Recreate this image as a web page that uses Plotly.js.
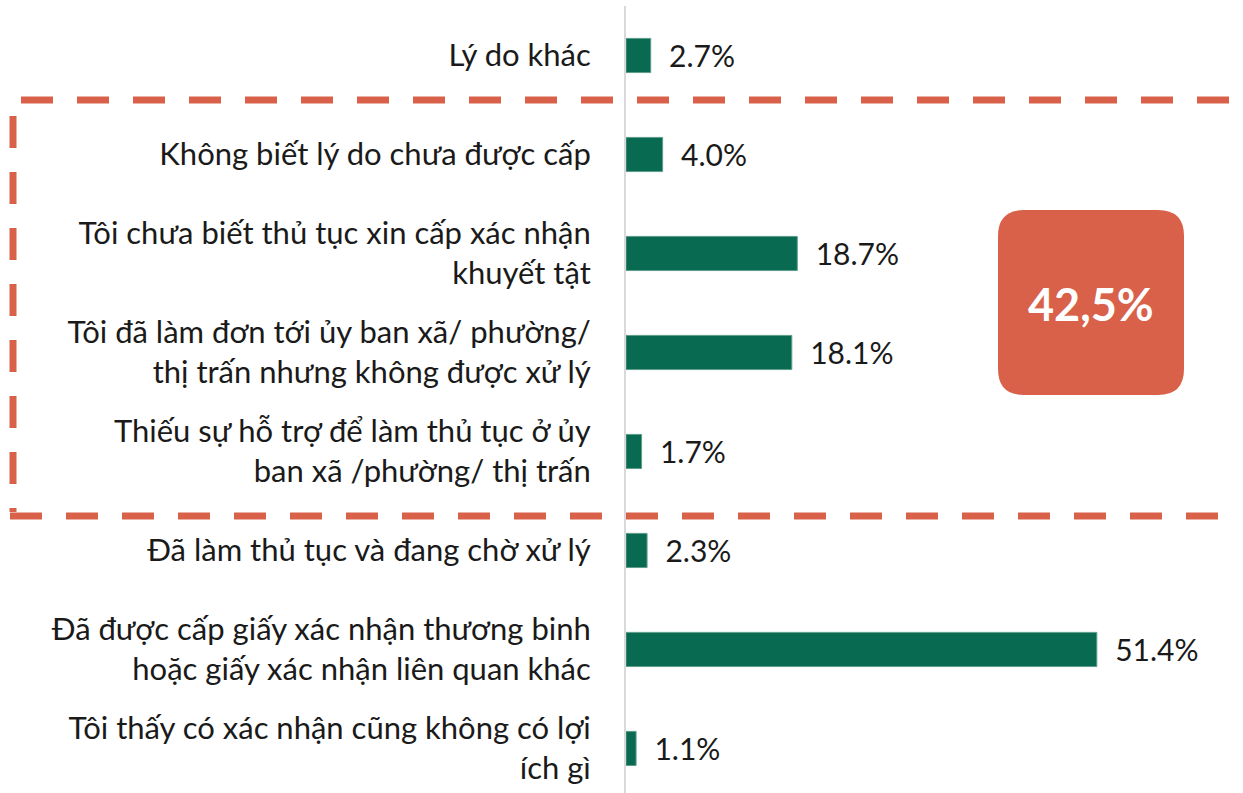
<!DOCTYPE html>
<html>
<head>
<meta charset="utf-8">
<script src="https://cdn.plot.ly/plotly-3.0.1.min.js"></script>
<style>html,body{margin:0;padding:0;background:#fff;}#chart{width:1243px;height:793px;}</style>
</head>
<body>
<div id="chart"></div>
<script>
var categories = [
  "Lý do khác",
  "Không biết lý do chưa được cấp",
  "Tôi chưa biết thủ tục xin cấp xác nhận<br>khuyết tật",
  "Tôi đã làm đơn tới ủy ban xã/ phường/<br>thị trấn nhưng không được xử lý",
  "Thiếu sự hỗ trợ để làm thủ tục ở ủy<br>ban xã /phường/ thị trấn",
  "Đã làm thủ tục và đang chờ xử lý",
  "Đã được cấp giấy xác nhận thương binh<br>hoặc giấy xác nhận liên quan khác",
  "Tôi thấy có xác nhận cũng không có lợi<br>ích gì"
];
var values = [2.7, 4.0, 18.7, 18.1, 1.7, 2.3, 51.4, 1.1];
var highlightText = "42,5%";

var W = 1243, H = 793, L = 626, T = 6;
var PW = W - L, PH = H - T;
function px(x){ return (x - L) / PW; }
function py(y){ return (H - y) / PH; }

var red = "#D9614A";
var dash = "32px,24px";
var FONT = "Lato, 'Open Sans', sans-serif";

function roundRect(x0, y0, x1, y1, r){
  var p = function(x, y){ return px(x) + "," + py(y); };
  return "M" + p(x0 + r, y0) + " L" + p(x1 - r, y0) + " Q" + p(x1, y0) + " " + p(x1, y0 + r) +
    " L" + p(x1, y1 - r) + " Q" + p(x1, y1) + " " + p(x1 - r, y1) +
    " L" + p(x0 + r, y1) + " Q" + p(x0, y1) + " " + p(x0, y1 - r) +
    " L" + p(x0, y0 + r) + " Q" + p(x0, y0) + " " + p(x0 + r, y0) + " Z";
}

var trace = {
  type: "bar",
  orientation: "h",
  y: categories,
  x: values,
  marker: {color: "#086B51", line: {color: "#5f9c8a", width: 1}},
  texttemplate: "\u00a0\u00a0%{x:.1f}%",
  textposition: "outside",
  constraintext: "none",
  cliponaxis: false,
  textfont: {family: FONT, size: 30, color: "#1a1a1a"},
  hoverinfo: "none"
};

var layout = {
  width: W, height: H,
  margin: {l: L, r: 0, t: T, b: 0, pad: 0},
  paper_bgcolor: "#fff", plot_bgcolor: "#fff",
  showlegend: false,
  bargap: 0.655,
  font: {family: FONT, size: 31, color: "#1a1a1a"},
  xaxis: {range: [0, PW / 9.16], visible: false, fixedrange: true},
  yaxis: {
    type: "category",
    range: [7.45, -0.5],
    showline: true, linecolor: "#d9d9d9", linewidth: 2,
    showgrid: false, zeroline: false,
    ticks: "", ticklabelstandoff: 27,
    tickfont: {family: FONT, size: 31, color: "#1a1a1a"},
    fixedrange: true
  },
  shapes: [
    {type: "line", xref: "paper", yref: "paper", x0: px(21), x1: px(1230), y0: py(100), y1: py(100),
     line: {color: red, width: 7, dash: dash}},
    {type: "line", xref: "paper", yref: "paper", x0: px(13), x1: px(13), y0: py(116), y1: py(512),
     line: {color: red, width: 7, dash: dash}},
    {type: "line", xref: "paper", yref: "paper", x0: px(10), x1: px(1222), y0: py(516), y1: py(516),
     line: {color: red, width: 7, dash: dash}},
    {type: "path", xref: "paper", yref: "paper", path: roundRect(998, 210, 1184, 395, 26),
     fillcolor: red, line: {width: 0}}
  ],
  annotations: [
    {xref: "paper", yref: "paper", x: px(1091), y: py(304), text: "<b>" + highlightText + "</b>",
     showarrow: false, xanchor: "center", yanchor: "middle",
     font: {family: FONT, size: 45, color: "#ffffff"}}
  ]
};

Plotly.newPlot("chart", [trace], layout, {displayModeBar: false, staticPlot: true});
</script>
</body>
</html>
